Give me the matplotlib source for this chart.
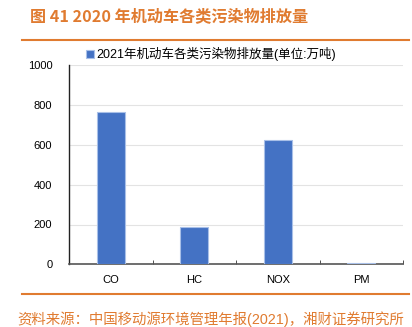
import matplotlib
matplotlib.use('Agg')
import matplotlib.pyplot as plt

plt.rcParams['font.family'] = ['Liberation Sans', 'Noto Sans CJK SC', 'DejaVu Sans']

# --- dati ---
categories = ['CO', 'HC', 'NOX', 'PM']
emissions = [767, 187, 625, 5]
yticks = [0, 200, 400, 600, 800, 1000]
series_name = '2021年机动车各类污染物排放量(单位:万吨)'
title = '图 41 2020 年机动车各类污染物排放量'
source = '资料来源：中国移动源环境管理年报(2021)，湘财证券研究所'

orange = '#E07B30'
blue = '#4472C4'

fig = plt.figure(figsize=(4.12, 3.27), dpi=100)

# titolo e linee arancioni
fig.text(30 / 412, 1 - 16 / 327, title, color=orange, fontsize=11.6,
         fontweight='bold', va='center', ha='left',
         family=['Noto Sans CJK SC', 'DejaVu Sans'])
fig.add_artist(plt.Line2D([22 / 412, 409 / 412], [1 - 40 / 327, 1 - 40 / 327],
                          color=orange, lw=1.5, transform=fig.transFigure))
fig.add_artist(plt.Line2D([22 / 412, 409 / 412], [1 - 294 / 327, 1 - 294 / 327],
                          color=orange, lw=1.5, transform=fig.transFigure))
fig.text(17 / 412, 1 - 319 / 327, source, color=orange, fontsize=10.4,
         va='center', ha='left')

# grafico
ax = fig.add_axes([69 / 412, 1 - 264.3 / 327, 334 / 412, 199 / 327])
x = list(range(len(categories)))
ax.bar(x, emissions, width=0.34, color=blue, edgecolor='#A9C0E8',
       linewidth=0.8, label=series_name, zorder=3)

ax.set_xlim(-0.5, len(categories) - 0.5)
ax.set_ylim(0, 1000)
ax.set_yticks(yticks)
ax.set_xticks(x)
ax.set_xticklabels(categories)
ax.set_xticks([i + 0.5 for i in x], minor=True)
ax.tick_params(axis='x', which='major', length=0, pad=8, labelsize=8)
ax.tick_params(axis='x', which='minor', direction='in', length=3, color='#333333')
ax.tick_params(axis='y', length=0, pad=12, labelsize=8)

ax.grid(axis='y', color='#E3E3E3', lw=0.8, zorder=0)
for s in ['top', 'right']:
    ax.spines[s].set_visible(False)
ax.spines['left'].set_color('#222222')
ax.spines['bottom'].set_color('#555555')
ax.spines['left'].set_linewidth(1.0)
ax.spines['bottom'].set_linewidth(1.2)

leg = ax.legend(loc='lower left', bbox_to_anchor=(86 / 412, 1 - 61 / 327),
                bbox_transform=fig.transFigure, frameon=False, fontsize=9,
                handlelength=0.6, handleheight=0.6, handletextpad=0.2,
                borderaxespad=0, borderpad=0)

fig.savefig('out.png', dpi=100)
